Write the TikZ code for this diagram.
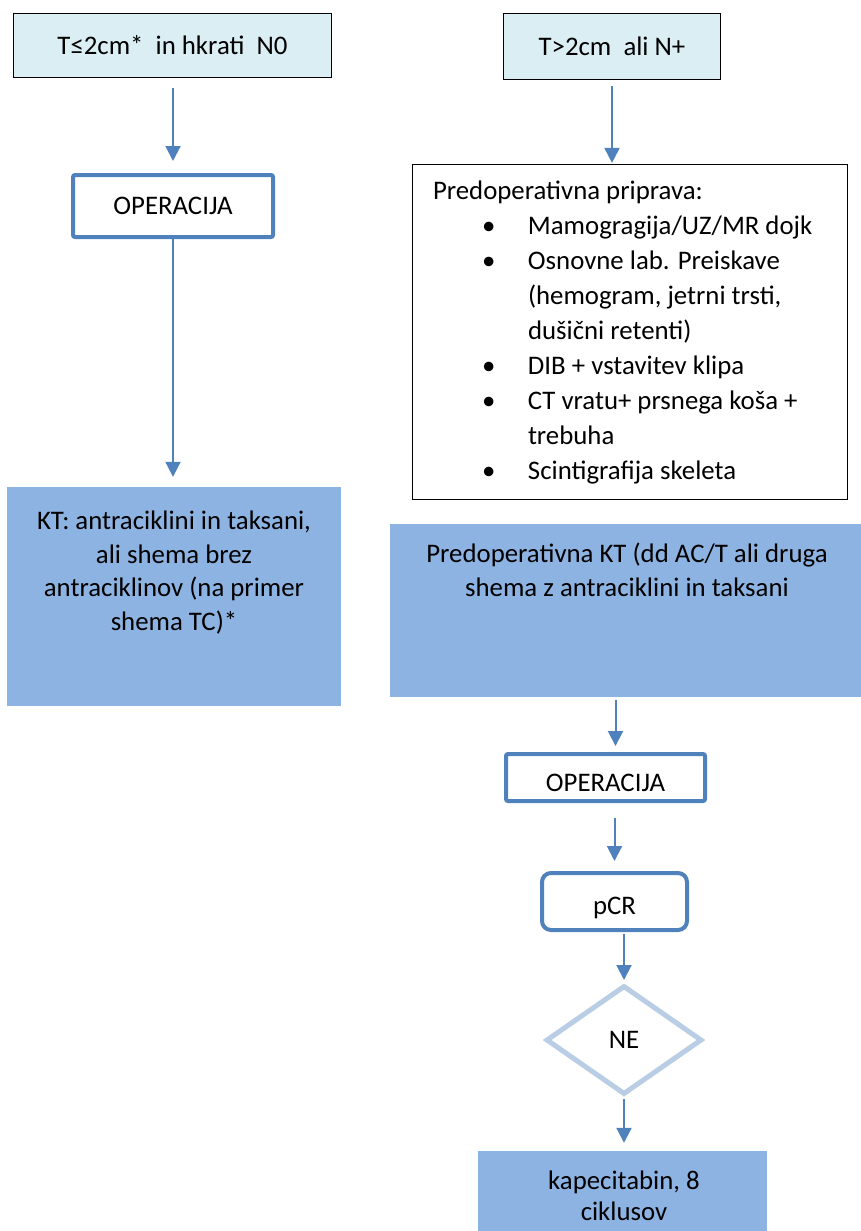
\documentclass[tikz,border=0pt]{standalone}
\usepackage{fontspec}
\setmainfont{Carlito}
\usetikzlibrary{arrows.meta,shapes.geometric}

\definecolor{capcyan}{HTML}{DAEEF3}
\definecolor{stepblue}{HTML}{8DB3E2}
\definecolor{edgeblue}{HTML}{4F81BD}
\definecolor{paleblue}{HTML}{B9CDE5}

\newcommand{\bul}[1]{\hspace*{49pt}\makebox[46pt][l]{\textbullet}#1}
\newcommand{\cont}[1]{\hspace*{95pt}#1}

\begin{document}
\begin{tikzpicture}[x=1pt,y=-1pt,
  every node/.style={font=\fontsize{26.8}{33.5}\selectfont, inner sep=0pt},
  headbox/.style={draw=black, line width=1.5pt, fill=capcyan},
  opbox/.style={draw=edgeblue, line width=4pt, fill=white, rounded corners=2pt},
  resbox/.style={draw=edgeblue, line width=4pt, fill=white, rounded corners=9pt},
  planbox/.style={draw=black, line width=1.2pt, fill=white, align=flush left,
    font=\fontsize{26.8}{35}\selectfont},
  therapy/.style={fill=stepblue},
  choice/.style={diamond, draw=paleblue, line width=5pt, fill=white},
  flow/.style={draw=edgeblue, line width=2pt, -{Triangle[length=15pt,width=15pt]}}
]
\useasboundingbox (0,0) rectangle (861,1231);

% left branch
\node[headbox, minimum width=318pt, minimum height=64pt] (top1) at (172.5,45.5)
  {T≤2cm*\ \ in hkrati\ \ N0};
\node[opbox, minimum width=200pt, minimum height=62pt] (op1) at (173,206) {OPERACIJA};
\node[therapy, minimum width=334pt, minimum height=219pt] (kt1) at (174,596.5) {};
\node[align=center, anchor=north] (kt1text) at (174,511)
  {KT: antraciklini in taksani,\\ ali shema brez\\ antraciklinov (na primer\\ shema TC)*};

% right branch
\node[headbox, minimum width=217pt, minimum height=66pt] (top2) at (612,46.5)
  {T>2cm\ \ ali N+};
\node[planbox, minimum width=435pt, minimum height=335pt, text width=394pt,
      inner xsep=20pt] (prep) at (630,332)
  {Predoperativna priprava:\\
   \bul{Mamogragija/UZ/MR dojk}\\
   \bul{Osnovne lab. Preiskave}\\
   \cont{(hemogram, jetrni trsti,}\\
   \cont{dušični retenti)}\\
   \bul{DIB + vstavitev klipa}\\
   \bul{CT vratu+ prsnega koša +}\\
   \cont{trebuha}\\
   \bul{Scintigrafija skeleta}};
\node[therapy, minimum width=471pt, minimum height=173pt] (kt2) at (625.5,610.5) {};
\node[align=center, anchor=north] (kt2text) at (627,543)
  {Predoperativna KT (dd AC/T ali druga\\ shema z antraciklini in taksani};
\node[opbox, minimum width=199pt, minimum height=47pt, text height=27pt, text depth=0pt]
  (op2) at (605.5,777.5) {OPERACIJA};
\node[resbox, minimum width=145pt, minimum height=57pt, text height=25pt, text depth=0pt]
  (pcr) at (614.5,901.5) {pCR};
\node[choice, minimum width=156pt, minimum height=109pt] (ne) at (624,1040) {NE};
\node[therapy, minimum width=289pt, minimum height=84pt] (kape) at (622.5,1193) {};
\node[align=center, anchor=north, font=\fontsize{26.8}{31}\selectfont] (kapetext) at (624,1171)
  {kapecitabin, 8\\ ciklusov};

% connectors
\draw[flow, shorten <=10pt, shorten >=12pt] (op1.north |- top1.south) -- (op1.north);
\draw[flow, shorten >=10pt] (op1.south) -- (op1.south |- kt1.north);
\draw[flow, shorten <=6pt, shorten >=1pt] (top2.south) -- (top2.south |- prep.north);
\draw[flow, shorten <=3pt, shorten >=6pt] ([xshift=10pt]op2.north |- kt2.south) -- ([xshift=10pt]op2.north);
\draw[flow, shorten <=15pt, shorten >=10pt] (pcr.north |- op2.south) -- (pcr.north);
\draw[flow, shorten <=2pt, shorten >=3pt] (ne.north |- pcr.south) -- (ne.north);
\draw[flow, shorten <=2pt, shorten >=8pt] (ne.south) -- (ne.south |- kape.north);
\end{tikzpicture}
\end{document}
